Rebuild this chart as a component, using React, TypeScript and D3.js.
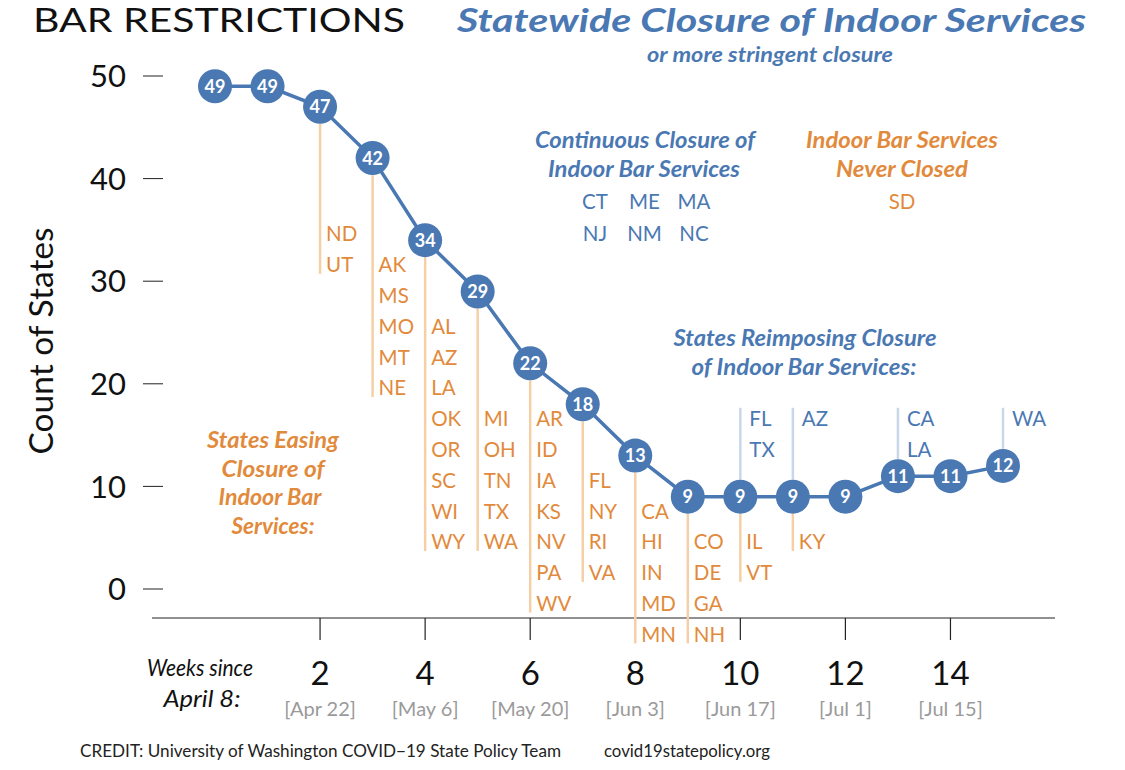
import React from "react";
import * as d3 from "d3";

// ---- data ----
const weeks = [0, 1, 2, 3, 4, 5, 6, 7, 8, 9, 10, 11, 12, 13, 14, 15];
const counts = [49, 49, 47, 42, 34, 29, 22, 18, 13, 9, 9, 9, 9, 11, 11, 12];

const xTickWeeks = [2, 4, 6, 8, 10, 12, 14];
const xTickDates = ["[Apr 22]", "[May 6]", "[May 20]", "[Jun 3]", "[Jun 17]", "[Jul 1]", "[Jul 15]"];
const yTicks = [0, 10, 20, 30, 40, 50];

const easingWeeks = [2, 3, 4, 5, 6, 7, 8, 9, 10, 11];
const easingStates = [
  ["ND", "UT"],
  ["AK", "MS", "MO", "MT", "NE"],
  ["AL", "AZ", "LA", "OK", "OR", "SC", "WI", "WY"],
  ["MI", "OH", "TN", "TX", "WA"],
  ["AR", "ID", "IA", "KS", "NV", "PA", "WV"],
  ["FL", "NY", "RI", "VA"],
  ["CA", "HI", "IN", "MD", "MN"],
  ["CO", "DE", "GA", "NH"],
  ["IL", "VT"],
  ["KY"],
];
const easingStartRow = [0, 1, 3, 6, 6, 8, 9, 10, 10, 10];

const reimposeWeeks = [10, 11, 13, 15];
const reimposeStates = [["FL", "TX"], ["AZ"], ["CA", "LA"], ["WA"]];
const reimposeStartRow = 6;

const continuousStates = ["CT", "ME", "MA", "NJ", "NM", "NC"];
const neverClosedStates = ["SD"];

// ---- style ----
const BLUE = "#4A78B3";
const ORANGE = "#E28A3C";
const LIGHT_ORANGE = "#F5CFA6";
const LIGHT_BLUE = "#C9D7EA";
const FONT = "Lato, 'Open Sans', sans-serif";

const W = 1125;
const H = 770;

type Ann = { t: string; x: number; y: number; w: number; c: string };

export default function App() {
  const x = d3.scaleLinear().domain([0, 15]).range([215, 1003]);
  const y = d3.scaleLinear().domain([0, 50]).range([589, 76]);
  const r = 17;
  const rowY0 = 234;
  const rowStep = 30.8;
  const rowY = (i: number) => rowY0 + i * rowStep;

  const line = d3
    .line<number>()
    .x((_, i) => x(weeks[i]))
    .y((d) => y(d));

  const axisY = 618;

  const anns: Ann[] = [
    { t: "Continuous Closure of", x: 645, y: 148, w: 220, c: BLUE },
    { t: "Indoor Bar Services", x: 644, y: 177, w: 192, c: BLUE },
    { t: "Indoor Bar Services", x: 902, y: 148, w: 192, c: ORANGE },
    { t: "Never Closed", x: 902, y: 177, w: 132, c: ORANGE },
    { t: "States Reimposing Closure", x: 805, y: 346, w: 263, c: BLUE },
    { t: "of Indoor Bar Services:", x: 804, y: 375, w: 225, c: BLUE },
    { t: "States Easing", x: 273, y: 448, w: 132, c: ORANGE },
    { t: "Closure of", x: 273, y: 477, w: 103, c: ORANGE },
    { t: "Indoor Bar", x: 270, y: 505, w: 103, c: ORANGE },
    { t: "Services:", x: 273, y: 534, w: 83, c: ORANGE },
  ];

  return (
    <svg
      width={W}
      height={H}
      style={{ position: "absolute", left: 0, top: 0, background: "#fff" }}
      fontFamily={FONT}
    >
      <rect width={W} height={H} fill="#fff" />
      {/* Titles */}
      <text x={33} y={32} fontSize={33} fill="#111" textLength={372} lengthAdjust="spacingAndGlyphs">
        BAR RESTRICTIONS
      </text>
      <text
        x={457}
        y={32}
        fontSize={32}
        fontWeight="bold"
        fontStyle="italic"
        fill={BLUE}
        textLength={629}
        lengthAdjust="spacingAndGlyphs"
      >
        Statewide Closure of Indoor Services
      </text>
      <text
        x={770}
        y={62}
        fontSize={21}
        fontWeight="bold"
        fontStyle="italic"
        fill={BLUE}
        textAnchor="middle"
        textLength={246}
        lengthAdjust="spacingAndGlyphs"
      >
        or more stringent closure
      </text>

      {/* Y axis */}
      {yTicks.map((t) => (
        <g key={"y" + t}>
          <line x1={143} x2={163} y1={y(t)} y2={y(t)} stroke="#222" strokeWidth={1} />
          <text x={126} y={y(t)} dy="0.36em" fontSize={31} textAnchor="end" fill="#111">
            {t}
          </text>
        </g>
      ))}
      <text
        transform={`translate(53,341) rotate(-90)`}
        fontSize={32}
        textAnchor="middle"
        fill="#111"
        textLength={227}
        lengthAdjust="spacingAndGlyphs"
      >
        Count of States
      </text>

      {/* X axis */}
      <line x1={152} x2={1055} y1={axisY} y2={axisY} stroke="#222" strokeWidth={1.2} />
      {xTickWeeks.map((w, i) => (
        <g key={"x" + w}>
          <line x1={x(w)} x2={x(w)} y1={axisY} y2={axisY + 22} stroke="#222" strokeWidth={1.2} />
          <text x={x(w)} y={685} fontSize={33} textAnchor="middle" fill="#111">
            {w}
          </text>
          <text x={x(w)} y={716} fontSize={20} textAnchor="middle" fill="#9a9a9a">
            {xTickDates[i]}
          </text>
        </g>
      ))}
      <text
        x={200}
        y={676}
        fontSize={24}
        fontStyle="italic"
        textAnchor="middle"
        fill="#111"
        textLength={106}
        lengthAdjust="spacingAndGlyphs"
      >
        Weeks since
      </text>
      <text
        x={202}
        y={707}
        fontSize={24}
        fontStyle="italic"
        textAnchor="middle"
        fill="#111"
        textLength={77}
        lengthAdjust="spacingAndGlyphs"
      >
        April 8:
      </text>

      {/* Credit */}
      <text x={80} y={757} fontSize={17} fill="#222" textLength={481} lengthAdjust="spacingAndGlyphs">
        CREDIT: University of Washington COVID−19 State Policy Team
      </text>
      <text x={604} y={757} fontSize={17} fill="#222" textLength={166} lengthAdjust="spacingAndGlyphs">
        covid19statepolicy.org
      </text>

      {/* Easing lists */}
      {easingWeeks.map((w, i) => {
        const idx = weeks.indexOf(w);
        const cy = y(counts[idx]);
        const states = easingStates[i];
        const start = easingStartRow[i];
        const lastY = rowY(start + states.length - 1);
        return (
          <g key={"e" + w}>
            <line x1={x(w)} x2={x(w)} y1={cy + r} y2={lastY + 9} stroke={LIGHT_ORANGE} strokeWidth={2.5} />
            {states.map((s, j) => (
              <text key={s} x={x(w) + 6} y={rowY(start + j)} dy="0.36em" fontSize={20.5} fill={ORANGE}>
                {s}
              </text>
            ))}
          </g>
        );
      })}

      {/* Reimposing lists */}
      {reimposeWeeks.map((w, i) => {
        const idx = weeks.indexOf(w);
        const cy = y(counts[idx]);
        const states = reimposeStates[i];
        return (
          <g key={"r" + w}>
            <line
              x1={x(w)}
              x2={x(w)}
              y1={rowY(reimposeStartRow) - 11}
              y2={cy - r}
              stroke={LIGHT_BLUE}
              strokeWidth={2.5}
            />
            {states.map((s, j) => (
              <text key={s} x={x(w) + 9} y={rowY(reimposeStartRow + j)} dy="0.36em" fontSize={20.5} fill={BLUE}>
                {s}
              </text>
            ))}
          </g>
        );
      })}

      {/* Main line */}
      <path d={line(counts) || ""} fill="none" stroke={BLUE} strokeWidth={3.5} />
      {counts.map((c, i) => (
        <g key={"p" + i}>
          <circle cx={x(weeks[i])} cy={y(c)} r={r} fill={BLUE} />
          <text
            x={x(weeks[i])}
            y={y(c)}
            dy="0.36em"
            fontSize={18}
            fontWeight="bold"
            textAnchor="middle"
            fill="#fff"
          >
            {c}
          </text>
        </g>
      ))}

      {/* Annotations */}
      <g fontWeight="bold" fontStyle="italic" fontSize={23} textAnchor="middle">
        {anns.map((a, i) => (
          <text key={"a" + i} x={a.x} y={a.y} fill={a.c} textLength={a.w} lengthAdjust="spacingAndGlyphs">
            {a.t}
          </text>
        ))}
      </g>
      {continuousStates.map((s, i) => (
        <text
          key={"c" + s}
          x={595 + (i % 3) * 49.5}
          y={202 + Math.floor(i / 3) * 32}
          dy="0.36em"
          fontSize={20.5}
          textAnchor="middle"
          fill={BLUE}
        >
          {s}
        </text>
      ))}
      {neverClosedStates.map((s) => (
        <text key={"n" + s} x={902} y={202} dy="0.36em" fontSize={20.5} textAnchor="middle" fill={ORANGE}>
          {s}
        </text>
      ))}
    </svg>
  );
}
